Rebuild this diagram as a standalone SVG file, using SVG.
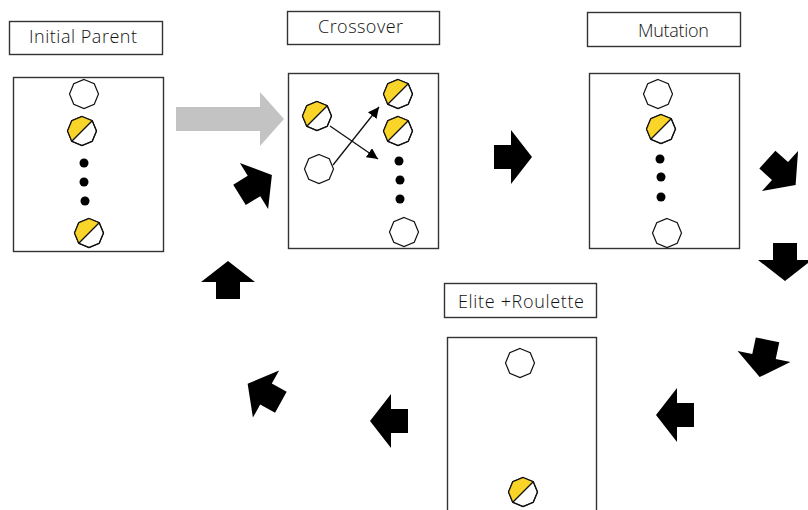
<svg xmlns="http://www.w3.org/2000/svg" xmlns:xlink="http://www.w3.org/1999/xlink" width="808" height="510" viewBox="0 0 808 510">
  <style>
    .frame { fill: #fff; stroke: #333; stroke-width: 1.4; }
    .label { font-family: "Open Sans", "Liberation Sans", Arial, sans-serif; font-weight: 300; font-size: 18px; fill: #111; }
    .oct { fill: #fff; stroke: #111; stroke-width: 1.2; }
    .half { fill: url(#hatch); stroke: none; }
    .split { stroke: #111; stroke-width: 1.2; }
    .dot { fill: #000; }
    .blk { fill: #000; }
    .thin { stroke: #111; stroke-width: 1.3; fill: none; }
  </style>
  <defs>
    <!-- yellow hatch fill for the half-filled individuals -->
    <pattern id="hatch" width="3" height="3" patternUnits="userSpaceOnUse" patternTransform="rotate(45)">
      <rect width="3" height="3" fill="#F9D21E"/>
      <line x1="0" y1="0" x2="0" y2="3" stroke="#FFE46A" stroke-width="0.8"/>
    </pattern>
    <!-- plain individual -->
    <g id="ind">
      <polygon class="oct" points="0,-14.5 10.25,-10.25 14.5,0 10.25,10.25 0,14.5 -10.25,10.25 -14.5,0 -10.25,-10.25"/>
    </g>
    <!-- half-filled individual -->
    <g id="indHalf">
      <polygon class="oct" points="0,-14.5 10.25,-10.25 14.5,0 10.25,10.25 0,14.5 -10.25,10.25 -14.5,0 -10.25,-10.25"/>
      <polygon class="half" points="10.25,-10.25 -10.25,10.25 -14.5,0 -10.25,-10.25 0,-14.5"/>
      <line class="split" x1="10.25" y1="-10.25" x2="-10.25" y2="10.25"/>
      <polygon points="0,-14.5 10.25,-10.25 14.5,0 10.25,10.25 0,14.5 -10.25,10.25 -14.5,0 -10.25,-10.25" fill="none" stroke="#111" stroke-width="1.2"/>
    </g>
    <!-- block arrow, head base at origin, pointing +x -->
    <path id="blk" class="blk" d="M-17,-12 H0 V-27 L21,0 L0,27 V12 H-17 Z"/>
    <marker id="tri" viewBox="0 0 10 10" refX="10" refY="5" markerWidth="11" markerHeight="11" markerUnits="userSpaceOnUse" orient="auto">
      <path d="M0,0 L10,5 L0,10 Z" fill="#000"/>
    </marker>
  </defs>

  <rect width="808" height="510" fill="#fff"/>

  <!-- Initial Parent -->
  <g id="initial-parent">
    <rect class="frame" x="9.5" y="21.5" width="153" height="33"/>
    <text class="label" x="29" y="43" textLength="108" lengthAdjust="spacing">Initial Parent</text>
    <rect class="frame" x="13.5" y="77.5" width="150" height="174"/>
    <use xlink:href="#ind" x="84" y="94"/>
    <use xlink:href="#indHalf" x="82" y="131"/>
    <circle class="dot" cx="84" cy="163" r="4.5"/>
    <circle class="dot" cx="84" cy="182" r="4.5"/>
    <circle class="dot" cx="85" cy="201" r="4.5"/>
    <use xlink:href="#indHalf" x="89" y="233"/>
  </g>

  <!-- Crossover -->
  <g id="crossover">
    <rect class="frame" x="287.5" y="11.5" width="152" height="33"/>
    <text class="label" x="318" y="33" textLength="85" lengthAdjust="spacing">Crossover</text>
    <rect class="frame" x="288.5" y="73.5" width="150" height="175"/>
    <use xlink:href="#indHalf" x="317" y="116"/>
    <use xlink:href="#ind" x="319" y="169"/>
    <use xlink:href="#indHalf" x="398" y="94"/>
    <use xlink:href="#indHalf" x="398" y="131"/>
    <circle class="dot" cx="399" cy="161" r="4.5"/>
    <circle class="dot" cx="400" cy="180" r="4.5"/>
    <circle class="dot" cx="400" cy="199" r="4.5"/>
    <use xlink:href="#ind" x="404" y="232"/>
    <line class="thin" x1="330" y1="126" x2="378" y2="159" marker-end="url(#tri)"/>
    <line class="thin" x1="333" y1="165" x2="379" y2="107" marker-end="url(#tri)"/>
  </g>

  <!-- Mutation -->
  <g id="mutation">
    <rect class="frame" x="587.5" y="12.5" width="153" height="34"/>
    <text class="label" x="638" y="37" textLength="71" lengthAdjust="spacing">Mutation</text>
    <rect class="frame" x="589.5" y="73.5" width="150" height="175"/>
    <use xlink:href="#ind" x="658" y="94"/>
    <use xlink:href="#indHalf" x="661" y="129"/>
    <circle class="dot" cx="660" cy="159" r="4.5"/>
    <circle class="dot" cx="661" cy="177" r="4.5"/>
    <circle class="dot" cx="661" cy="197" r="4.5"/>
    <use xlink:href="#ind" x="667" y="233"/>
  </g>

  <!-- Elite + Roulette selection -->
  <g id="elite-roulette">
    <rect class="frame" x="444.5" y="283.5" width="152" height="34"/>
    <text class="label" x="458" y="308" textLength="126" lengthAdjust="spacing">Elite +Roulette</text>
    <rect class="frame" x="447.5" y="337.5" width="149" height="190"/>
    <use xlink:href="#ind" x="520" y="363"/>
    <use xlink:href="#indHalf" x="523" y="492"/>
  </g>

  <!-- Connectors -->
  <g id="connectors">
    <polygon fill="#C3C3C3" points="176,107 260,107 260,92 284,119 260,146 260,131 176,131"/>
    <use xlink:href="#blk" transform="translate(511,157)"/>
    <use xlink:href="#blk" transform="translate(780,171) rotate(42)"/>
    <use xlink:href="#blk" transform="translate(785,260) rotate(90)"/>
    <use xlink:href="#blk" transform="translate(764,356.5) rotate(102)"/>
    <use xlink:href="#blk" transform="translate(677,415) rotate(180)"/>
    <use xlink:href="#blk" transform="translate(391,421) rotate(180)"/>
    <use xlink:href="#blk" transform="translate(266,394) rotate(-151)"/>
    <use xlink:href="#blk" transform="translate(228,282) rotate(-90)"/>
    <use xlink:href="#blk" transform="translate(254,186) rotate(-31.5)"/>
  </g>
</svg>
